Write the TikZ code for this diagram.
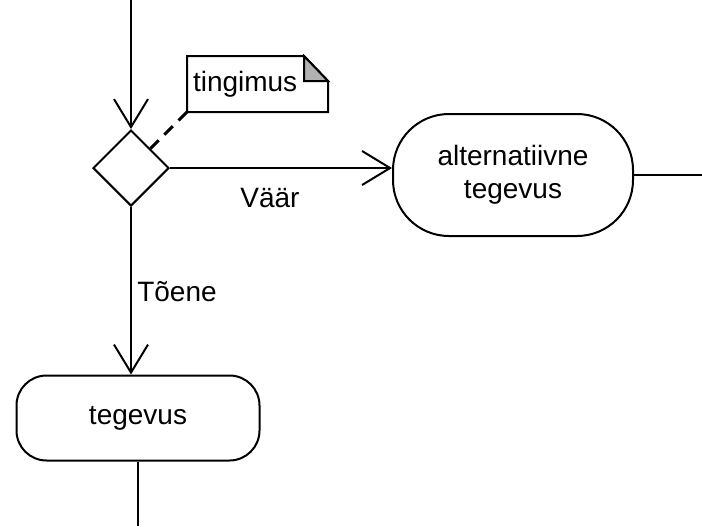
\documentclass[tikz,border=0pt]{standalone}
\usepackage{fontspec}
\setmainfont{Liberation Sans}
\usetikzlibrary{shapes.geometric, arrows.meta, calc}

\begin{document}
\begin{tikzpicture}[
    x=0.5pt,y=-0.5pt,line width=1pt,
    every node/.style={font=\fontsize{14}{16.5}\selectfont},
    flow/.style={-{Straight Barb[length=14pt,width=17pt]}},
    activity/.style={draw, fill=white, align=center, inner sep=0pt},
    choice/.style={draw, fill=white, diamond, minimum width=38pt, minimum height=38pt, inner sep=0pt}
    ]
    \useasboundingbox (0, 0) rectangle (702, 526);
    \node[choice] (dec) at (131, 168) {};
    \node[activity, minimum width=120pt, minimum height=61pt, rounded corners=28pt] (alt) at (513, 175) {alternatiivne\\tegevus};
    \node[activity, minimum width=121.5pt, minimum height=42.5pt, rounded corners=15pt] (act) at (138, 418) {tegevus};
    \node[minimum width=69.5pt, minimum height=27pt, inner sep=0pt] (cond) at (257.5, 84) {};
    \coordinate (top) at (131, 0);
    \coordinate (altout) at (702, 175);
    \coordinate (actout) at (138, 526);
    % note with folded corner
    \draw[fill=white] (cond.south west) |- ($(cond.north east)+(-12pt,0)$) -- ($(cond.north east)+(0,-12.5pt)$) |- cycle;
    \draw[fill=gray!60] ($(cond.north east)+(-12pt,0)$) -- ($(cond.north east)+(-12pt,-12.5pt)$) -- ($(cond.north east)+(0,-12.5pt)$) -- cycle;
    \node[anchor=west, inner sep=0pt] at (192, 84) {tingimus};
    \draw[dashed, dash pattern=on 6pt off 4pt, line width=1.5pt] (cond.south west) -- (dec.north east);
    % control flow
    \draw[flow] (top) -- (dec);
    \draw[flow] (dec.east) -- (dec.east -| alt.west);
    \draw[flow] (dec.south) -- (dec.south |- act.north);
    \draw (alt.east) -- (altout);
    \draw (act.south) -- (actout);
    \node (vaar) at (270, 198) {Väär};
    \node (toene) at (177, 292) {Tõene};
  \end{tikzpicture}
\end{document}
